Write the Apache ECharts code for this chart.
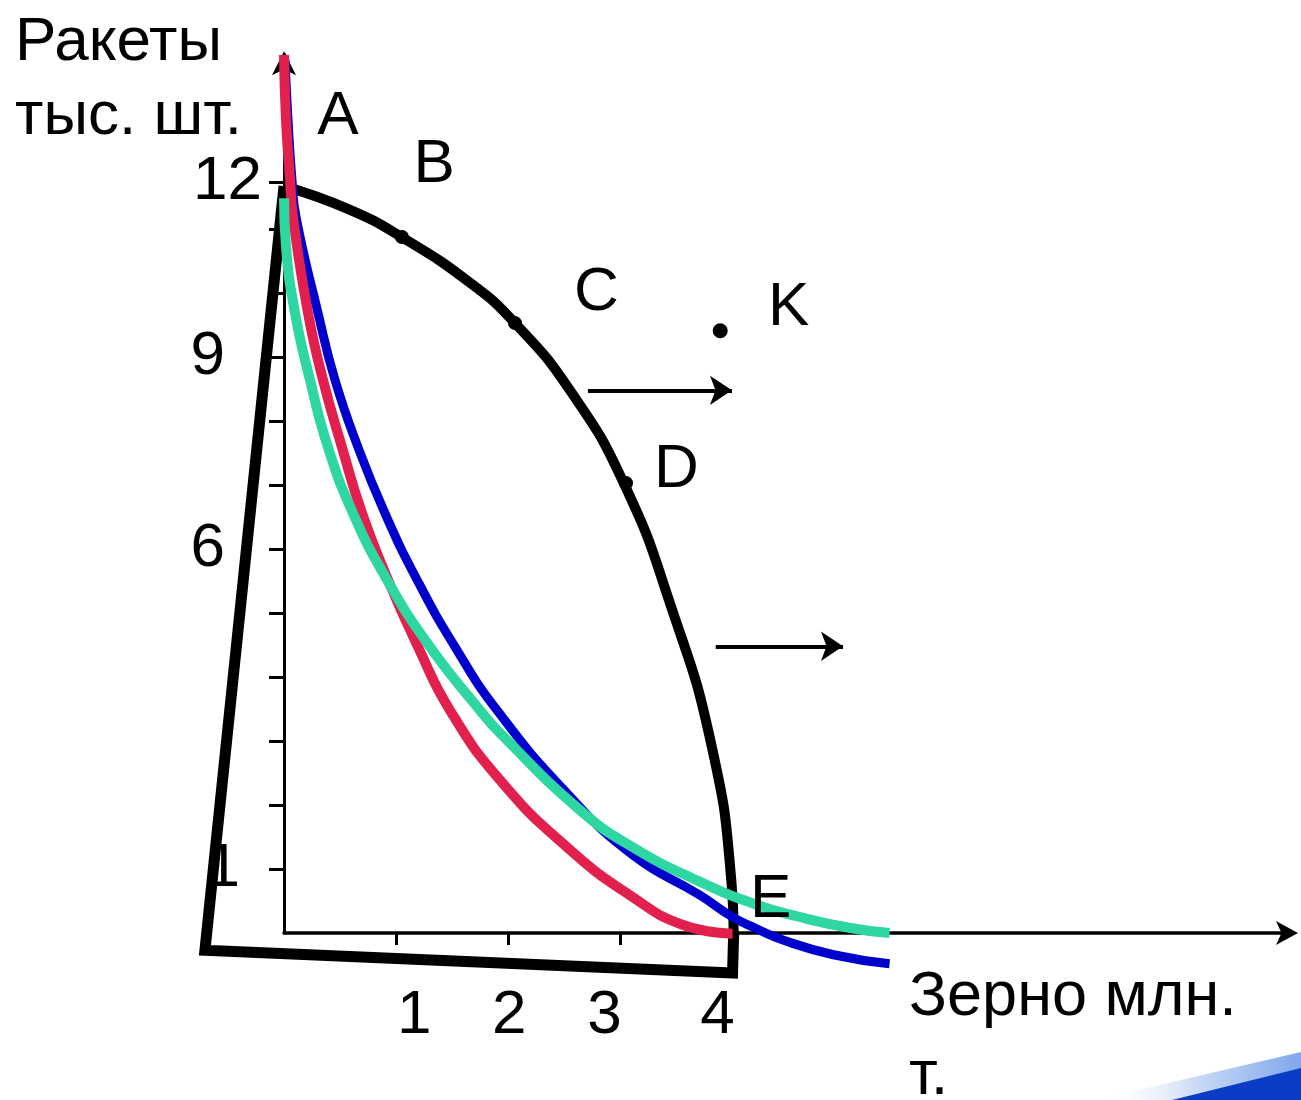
<!DOCTYPE html>
<html>
<head>
<meta charset="utf-8">
<script src="https://cdn.jsdelivr.net/npm/echarts@6/dist/echarts.min.js"></script>
<style>
html,body{margin:0;padding:0;background:#fff;}
#chart{width:1301px;height:1100px;}
</style>
</head>
<body>
<div id="chart"></div>
<script>
// ---------- data ----------
const yTickValues = [1, 2, 3, 4, 5, 6, 7, 8, 9, 10, 11, 11.73];
const yLabelValues = [1, 6, 9, 11.73];
const yLabelTexts = ['1', '6', '9', '12'];
const xTickValues = [1, 2, 3, 4];
const xLabelTexts = ['1', '2', '3', '4'];

// production possibilities frontier (black)
const ppfPoints = [
  [0.0, 11.67], [0.589, 11.30], [1.052, 10.87], [1.659, 10.16], [2.06, 9.53],
  [2.55, 8.48], [3.03, 7.03], [3.45, 5.11], [3.81, 2.95], [3.99, 0.80], [4.01, 0.0]
];
// black frame
const framePoints = [[4.01, 0.0], [4.0, -0.625], [-0.705, -0.27], [0.0, 11.67]];
// curves
const bluePoints = [
  [0.009, 13.64], [0.036, 12.70], [0.071, 11.77], [0.107, 11.19], [0.303, 9.69],
  [0.455, 8.64], [0.66, 7.59], [0.90, 6.56], [1.186, 5.52], [1.525, 4.47],
  [1.90, 3.48], [2.52, 2.19], [3.11, 1.22], [3.71, 0.59], [4.0, 0.25],
  [4.20, 0.078], [4.45, -0.11], [4.90, -0.34], [5.40, -0.48]
];
const redPoints = [
  [0.0, 13.72], [0.018, 12.70], [0.054, 11.77], [0.080, 11.19], [0.214, 9.69],
  [0.348, 8.64], [0.517, 7.59], [0.696, 6.56], [0.927, 5.52], [1.195, 4.47],
  [1.48, 3.48], [1.926, 2.39], [2.524, 1.34], [3.11, 0.56], [3.56, 0.125],
  [4.0, -0.01]
];
const greenPoints = [
  [0.0, 11.48], [0.018, 10.72], [0.098, 9.69], [0.232, 8.64], [0.392, 7.59],
  [0.615, 6.56], [0.918, 5.52], [1.302, 4.47], [1.748, 3.48], [1.926, 3.125],
  [2.64, 1.92], [3.11, 1.34], [3.71, 0.80], [4.20, 0.45], [4.60, 0.25],
  [5.05, 0.078], [5.40, 0.0]
];
// points on frontier and point K
const dotPoints = [[1.052, 10.875], [2.06, 9.53], [3.05, 7.03]];
const kDot = [[3.89, 9.41]];
// letter labels
const letterNames = ['A', 'B', 'C', 'D', 'E', 'K'];
const letterX = [0.482, 1.339, 2.786, 3.5, 4.34, 4.5];
const letterY = [12.75, 12.0, 10.0, 7.23, 0.52, 9.77];
// shift arrows
const arrow1 = [[2.71, 8.48], [3.995, 8.48]];
const arrow2 = [[3.85, 4.48], [4.985, 4.48]];

const FONT = '"Liberation Sans", Arial, sans-serif';
const FS = 62;

const chart = echarts.init(document.getElementById('chart'));

const yRich = {
  r1: {fontSize: FS, fontFamily: FONT, color: '#000', padding: [0, 22, 0, 0]},
  r6: {fontSize: FS, fontFamily: FONT, color: '#000', padding: [0, 37, 0, 0]},
  r9: {fontSize: FS, fontFamily: FONT, color: '#000', padding: [0, 37, 0, 0]},
  r12: {fontSize: FS, fontFamily: FONT, color: '#000', padding: [0, 0, 0, 0]}
};
const xRich = {
  x1: {fontSize: FS, fontFamily: FONT, color: '#000', padding: [0, 0, 0, 36]},
  x2: {fontSize: FS, fontFamily: FONT, color: '#000', padding: [0, 0, 0, 2]},
  x3: {fontSize: FS, fontFamily: FONT, color: '#000', padding: [0, 32, 0, 0]},
  x4: {fontSize: FS, fontFamily: FONT, color: '#000', padding: [0, 30, 0, 0]}
};

// grid 0 carries the visible axes (origin at the corner),
// grid 1 has the same scale but extends below/left of the origin so the frame is not clipped
const UX = 1007 / 8.98;   // px per x unit
const UY = 878.7 / 13.73; // px per y unit

const lineBase = {type: 'line', xAxisIndex: 1, yAxisIndex: 1, symbol: 'none', clip: false};

const option = {
  animation: false,
  backgroundColor: '#fff',
  grid: [
    {left: 284, right: 10, top: 54.3, bottom: 167, containLabel: false},
    {left: 284 - UX, right: 10, top: 54.3, bottom: 167 - UY, containLabel: false}
  ],
  xAxis: [{
    gridIndex: 0, type: 'value', min: 0, max: 8.98,
    splitLine: {show: false},
    axisLine: {show: true, onZero: false, symbol: ['none', 'arrow'], symbolSize: [18, 22],
      symbolOffset: [0, 7],
      lineStyle: {color: '#000', width: 3.5}},
    axisTick: {show: true, customValues: xTickValues, length: 12, lineStyle: {color: '#000', width: 3}},
    axisLabel: {
      show: true, customValues: xTickValues, margin: 52,
      formatter: function (v) {
        const i = xTickValues.findIndex(t => Math.abs(t - v) < 1e-6);
        return i < 0 ? '' : '{x' + xLabelTexts[i] + '|' + xLabelTexts[i] + '}';
      },
      rich: xRich
    }
  }, {
    gridIndex: 1, type: 'value', min: -1, max: 8.98, show: false
  }],
  yAxis: [{
    gridIndex: 0, type: 'value', min: 0, max: 13.73,
    splitLine: {show: false},
    axisLine: {show: true, onZero: false, symbol: ['none', 'arrow'], symbolSize: [18, 24],
      symbolOffset: [0, 3],
      lineStyle: {color: '#000', width: 3}},
    axisTick: {show: true, customValues: yTickValues, length: 15, lineStyle: {color: '#000', width: 3}},
    axisLabel: {
      show: true, customValues: yLabelValues, margin: 22,
      formatter: function (v) {
        const i = yLabelValues.findIndex(t => Math.abs(t - v) < 1e-6);
        return i < 0 ? '' : '{r' + yLabelTexts[i] + '|' + yLabelTexts[i] + '}';
      },
      rich: yRich
    }
  }, {
    gridIndex: 1, type: 'value', min: -1, max: 13.73, show: false
  }],
  graphic: [
    {type: 'text', left: 15, top: 12, style: {text: 'Ракеты', font: FS + 'px ' + FONT, fill: '#000'}},
    {type: 'text', left: 15, top: 86, style: {text: 'тыс. шт.', font: FS + 'px ' + FONT, fill: '#000'}},
    {type: 'text', left: 909, top: 966, style: {text: 'Зерно млн.', font: '63px ' + FONT, fill: '#000'}},
    {type: 'text', left: 909, top: 1045, style: {text: 'т.', font: '63px ' + FONT, fill: '#000'}},
    {type: 'polygon', z: 0, shape: {points: [[1095, 1100], [1301, 1052], [1301, 1070], [1172, 1100]]},
      style: {fill: new echarts.graphic.LinearGradient(0, 0, 1, 0, [
        {offset: 0, color: 'rgba(255,255,255,0)'}, {offset: 0.5, color: '#C9D9F4'}, {offset: 1, color: '#7FA6EC'}])}},
    {type: 'polygon', z: 0, shape: {points: [[1172, 1100], [1301, 1068], [1301, 1100]]},
      style: {fill: '#0B3CC6'}}
  ],
  series: [
    Object.assign({}, lineBase, {
      name: 'frame', data: framePoints, z: 3,
      lineStyle: {color: '#000', width: 11, join: 'miter', cap: 'butt'}
    }),
    Object.assign({}, lineBase, {
      name: 'ppf', data: ppfPoints, smooth: 0.5, z: 3,
      lineStyle: {color: '#000', width: 10, cap: 'butt'}
    }),
    {
      type: 'scatter', name: 'dots', xAxisIndex: 1, yAxisIndex: 1, data: dotPoints,
      symbol: 'circle', symbolSize: 14, z: 4, itemStyle: {color: '#000', opacity: 1}
    },
    {
      type: 'scatter', name: 'k', xAxisIndex: 1, yAxisIndex: 1, data: kDot,
      symbol: 'circle', symbolSize: 15, z: 4, itemStyle: {color: '#000', opacity: 1}
    },
    Object.assign({}, lineBase, {
      name: 'blue', data: bluePoints, smooth: 0.5, z: 5,
      lineStyle: {color: '#0000CC', width: 9, cap: 'butt'}
    }),
    Object.assign({}, lineBase, {
      name: 'red', data: redPoints, smooth: 0.5, z: 6,
      lineStyle: {color: '#E2204E', width: 10, cap: 'butt'}
    }),
    Object.assign({}, lineBase, {
      name: 'green', data: greenPoints, smooth: 0.5, z: 7,
      lineStyle: {color: '#2ED6A1', width: 10, cap: 'butt'}
    }),
    {
      type: 'lines', coordinateSystem: 'cartesian2d', xAxisIndex: 1, yAxisIndex: 1, z: 4,
      symbol: ['none', 'arrow'], symbolSize: [15, 22],
      lineStyle: {color: '#000', width: 4, opacity: 1, curveness: 0},
      data: [{coords: arrow1}, {coords: arrow2}]
    },
    {
      type: 'scatter', name: 'letters', xAxisIndex: 1, yAxisIndex: 1, symbolSize: 0, z: 8,
      itemStyle: {opacity: 1},
      data: letterNames.map((n, i) => ({name: n, value: [letterX[i], letterY[i]]})),
      label: {show: true, position: 'inside', formatter: '{b}', fontSize: FS, fontFamily: FONT,
        color: '#000', opacity: 1}
    }
  ]
};
chart.setOption(option);
</script>
</body>
</html>
